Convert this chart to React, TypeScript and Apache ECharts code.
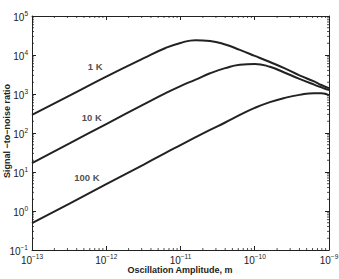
import React, { useEffect, useRef } from "react";
import * as echarts from "echarts";

// Oscillation amplitude (m) sampled along the curves
const amplitude = [
  1e-13, 3.2e-13, 1e-12, 3.2e-12, 6.3e-12, 1e-11, 1.6e-11, 2.5e-11, 4e-11,
  6.3e-11, 1e-10, 1.6e-10, 2.5e-10, 4e-10, 6.3e-10, 7.9e-10, 1e-9,
];

// Signal-to-noise ratio at each temperature
const snr1K = [
  290, 910, 2800, 8300, 15100, 20400, 24000, 22900, 18600, 13500, 9500, 6600,
  4600, 3000, 2100, 1700, 1400,
];
const snr10K = [
  17, 54, 170, 540, 1050, 1600, 2340, 3400, 4600, 5600, 5900, 5000, 3550, 2450,
  1740, 1480, 1260,
];
const snr100K = [
  0.49, 1.55, 4.9, 15.5, 31, 49, 78, 120, 186, 290, 440, 620, 790, 950, 1050,
  1050, 930,
];

// Curve annotations: [amplitude, snr, text]
const curveLabels: [number, number, string][] = [
  [7.1e-13, 5200, "1 K"],
  [6.4e-13, 257, "10 K"],
  [5.5e-13, 7.4, "100 K"],
];

const xTitle = "Oscillation Amplitude, m";
const yTitle = "Signal \u2212to\u2212noise ratio";

const xMin = 1e-13;
const xMax = 1e-9;
const yMin = 1e-1;
const yMax = 1e5;

const FONT = "Liberation Sans, Arial, Helvetica, sans-serif";
const INK = "#222";

function powLabel(v: number) {
  const e = Math.round(Math.log10(v));
  const s = e < 0 ? "\u2212" + Math.abs(e) : String(e);
  return `{b|10}{e|${s}}`;
}

const richPow = {
  b: { fontSize: 10, fontFamily: FONT, color: INK, verticalAlign: "bottom", lineHeight: 12 },
  e: { fontSize: 6.5, fontFamily: FONT, color: INK, verticalAlign: "top", lineHeight: 12 },
};

// Minor tick positions at 2..9 within each decade
function minorValues(lo: number, hi: number) {
  const out: number[] = [];
  for (let k = Math.round(Math.log10(lo)); k < Math.round(Math.log10(hi)); k++) {
    for (let m = 2; m <= 9; m++) out.push(m * Math.pow(10, k));
  }
  return out;
}

export default function App() {
  const ref = useRef<HTMLDivElement>(null);

  useEffect(() => {
    if (!ref.current) return;
    const chart = echarts.init(ref.current, undefined, { renderer: "svg" });

    const pair = (ys: number[]) => amplitude.map((x, i) => [x, ys[i]]);
    const tickData = [
      ...minorValues(xMin, xMax).map((v) => [v, 1, 0]),
      ...minorValues(yMin, yMax).map((v) => [1e-11, v, 1]),
    ];

    const lineSeries = (name: string, ys: number[]) => ({
      type: "line",
      name,
      data: pair(ys),
      smooth: true,
      showSymbol: false,
      lineStyle: { color: INK, width: 2 },
      z: 3,
    });

    const baseAxisLine = { show: true, lineStyle: { color: INK, width: 1 } };
    const majorTick = { show: true, inside: true, length: 4, lineStyle: { color: INK } };
    const titleStyle = { fontFamily: FONT, fontSize: 9, fontWeight: "bold", fill: INK };

    chart.setOption({
      animation: false,
      backgroundColor: "#fff",
      grid: {
        left: 32,
        right: 10,
        top: 16,
        bottom: 29,
        show: false,
        containLabel: false,
        outerBoundsMode: "none",
      },
      // Axis titles
      graphic: [
        {
          type: "text",
          x: 180,
          y: 270,
          style: { ...titleStyle, text: xTitle, align: "center", verticalAlign: "middle" },
        },
        {
          type: "text",
          x: 7,
          y: 131,
          rotation: Math.PI / 2,
          style: { ...titleStyle, text: yTitle, align: "center", verticalAlign: "middle" },
        },
      ],
      xAxis: [
        {
          type: "log",
          min: xMin,
          max: xMax,
          logBase: 10,
          axisLine: baseAxisLine,
          axisTick: majorTick,
          axisLabel: { formatter: powLabel, rich: richPow, margin: 3 },
          splitLine: { show: false },
        },
        {
          type: "log",
          position: "top",
          min: xMin,
          max: xMax,
          axisLine: baseAxisLine,
          axisTick: majorTick,
          axisLabel: { show: false },
          splitLine: { show: false },
        },
      ],
      yAxis: [
        {
          type: "log",
          min: yMin,
          max: yMax,
          logBase: 10,
          axisLine: baseAxisLine,
          axisTick: majorTick,
          axisLabel: { formatter: powLabel, rich: richPow, margin: 4 },
          splitLine: { show: false },
        },
        {
          type: "log",
          position: "right",
          min: yMin,
          max: yMax,
          axisLine: baseAxisLine,
          axisTick: majorTick,
          axisLabel: { show: false },
          splitLine: { show: false },
        },
      ],
      series: [
        lineSeries("1 K", snr1K),
        lineSeries("10 K", snr10K),
        lineSeries("100 K", snr100K),
        {
          type: "scatter",
          name: "labels",
          data: curveLabels.map(([x, y, t]) => ({ value: [x, y], name: t })),
          symbolSize: 0,
          label: {
            show: true,
            position: "inside",
            formatter: (p: any) => p.name,
            fontFamily: FONT,
            fontSize: 9.5,
            fontWeight: "bold",
            color: INK,
          },
          z: 4,
        },
        {
          type: "custom",
          name: "minorTicks",
          data: tickData,
          silent: true,
          clip: false,
          renderItem: (params: any, api: any) => {
            const cs = params.coordSys;
            const kind = api.value(2);
            const len = 2;
            const style = { stroke: INK, lineWidth: 0.8 };
            if (kind === 0) {
              const px = api.coord([api.value(0), 1])[0];
              return {
                type: "group",
                children: [
                  { type: "line", shape: { x1: px, y1: cs.y + cs.height, x2: px, y2: cs.y + cs.height - len }, style },
                  { type: "line", shape: { x1: px, y1: cs.y, x2: px, y2: cs.y + len }, style },
                ],
              };
            }
            const py = api.coord([1e-11, api.value(1)])[1];
            return {
              type: "group",
              children: [
                { type: "line", shape: { x1: cs.x, y1: py, x2: cs.x + len, y2: py }, style },
                { type: "line", shape: { x1: cs.x + cs.width, y1: py, x2: cs.x + cs.width - len, y2: py }, style },
              ],
            };
          },
        },
      ],
    });

    return () => chart.dispose();
  }, []);

  return (
    <div
      ref={ref}
      style={{ position: "absolute", left: 0, top: 0, width: 339, height: 279 }}
    />
  );
}
